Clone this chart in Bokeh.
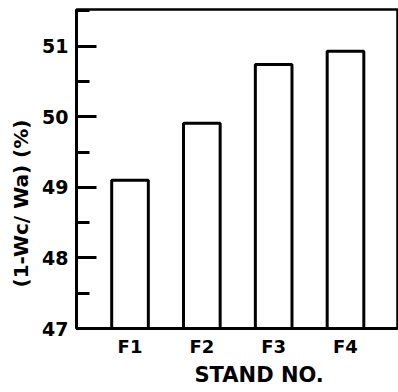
from bokeh.plotting import figure
from bokeh.models import Range1d, FixedTicker, Title
from bokeh.embed import file_html
from bokeh.resources import INLINE

stands = ["F1", "F2", "F3", "F4"]
positions = [1, 2, 3, 4]
values = [49.10, 49.91, 50.74, 50.93]
y_ticks = [47, 48, 49, 50, 51]
y_minor = [47.5, 48.5, 49.5, 50.5, 51.5]
y_label = "(1-Wc/ Wa) (%)"
x_label = "STAND NO."

FONT = "DejaVu Sans"

p = figure(width=398, height=392, output_backend="svg", toolbar_location=None,
           x_range=Range1d(0.255, 4.724), y_range=Range1d(47, 51.52),
           min_border_left=76, min_border_right=1, min_border_top=9, min_border_bottom=64)
p.background_fill_color = "white"
p.border_fill_color = "white"
p.grid.visible = False
p.outline_line_color = "black"
p.outline_line_width = 2.5

p.vbar(x=positions, top=values, bottom=47, width=0.51, fill_color="white",
       line_color="black", line_width=3)

# y axis
ya = p.yaxis[0]
ya.ticker = FixedTicker(ticks=y_ticks, minor_ticks=y_minor)
ya.major_tick_in = 20
ya.major_tick_out = 0
ya.minor_tick_in = 13
ya.minor_tick_out = 0
ya.major_tick_line_width = 3
ya.minor_tick_line_width = 3
ya.axis_line_width = 3
ya.major_label_text_font = FONT
ya.major_label_text_font_style = "bold"
ya.major_label_text_font_size = "19px"
ya.major_label_text_color = "black"
ya.major_label_standoff = 8

# x axis
xa = p.xaxis[0]
xa.ticker = FixedTicker(ticks=positions)
xa.major_label_overrides = {pos: s for pos, s in zip(positions, stands)}
xa.major_tick_in = 0
xa.major_tick_out = 0
xa.minor_tick_line_color = None
xa.axis_line_width = 3
xa.major_label_text_font = FONT
xa.major_label_text_font_style = "bold"
xa.major_label_text_font_size = "18px"
xa.major_label_text_color = "black"
xa.major_label_standoff = 7

p.add_layout(Title(text=x_label, align="left", offset=118, text_font=FONT,
                   text_font_style="bold", text_font_size="21px", text_color="black",
                   standoff=2), "below")
p.add_layout(Title(text=y_label, align="left", offset=41, text_font=FONT,
                   text_font_style="bold", text_font_size="20px", text_color="black",
                   standoff=13), "left")

open("out.html", "w").write(file_html(p, INLINE))
